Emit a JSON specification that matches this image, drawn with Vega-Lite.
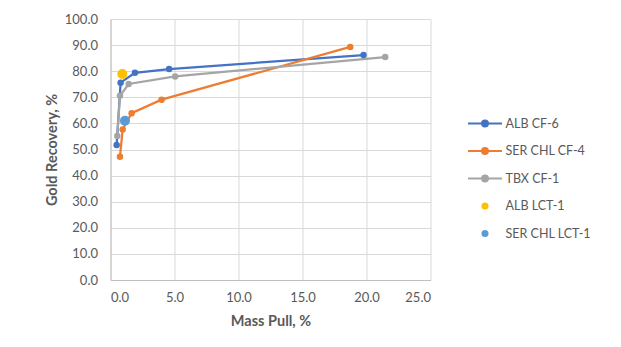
{
  "$schema": "https://vega.github.io/schema/vega-lite/v6.json",
  "width": 320,
  "height": 261,
  "autosize": {"type": "none"},
  "padding": {"left": 110.5, "top": 19, "right": 190.5, "bottom": 67},
  "background": "white",
  "config": {"view": {"stroke": null}},
  "data": {
    "values": [
      {"series": "ALB CF-6", "mass": 0.48, "recovery": 51.7},
      {"series": "ALB CF-6", "mass": 0.79, "recovery": 75.6},
      {"series": "ALB CF-6", "mass": 1.91, "recovery": 79.4},
      {"series": "ALB CF-6", "mass": 4.58, "recovery": 80.8},
      {"series": "ALB CF-6", "mass": 19.77, "recovery": 86.2},
      {"series": "SER CHL CF-4", "mass": 0.74, "recovery": 47.2},
      {"series": "SER CHL CF-4", "mass": 0.95, "recovery": 57.7},
      {"series": "SER CHL CF-4", "mass": 1.65, "recovery": 63.9},
      {"series": "SER CHL CF-4", "mass": 3.99, "recovery": 69.1},
      {"series": "SER CHL CF-4", "mass": 18.73, "recovery": 89.3},
      {"series": "TBX CF-1", "mass": 0.53, "recovery": 55.2},
      {"series": "TBX CF-1", "mass": 0.74, "recovery": 70.6},
      {"series": "TBX CF-1", "mass": 1.42, "recovery": 75.1},
      {"series": "TBX CF-1", "mass": 5.05, "recovery": 78.0},
      {"series": "TBX CF-1", "mass": 21.46, "recovery": 85.4},
      {"series": "ALB LCT-1", "mass": 0.92, "recovery": 78.9},
      {"series": "SER CHL LCT-1", "mass": 1.13, "recovery": 61.0}
    ]
  },
  "encoding": {
    "x": {
      "field": "mass", "type": "quantitative",
      "scale": {"domain": [0, 25], "nice": false, "zero": true},
      "axis": {
        "title": "Mass Pull, %", "values": [0, 5, 10, 15, 20, 25], "format": ".1f",
        "grid": true, "gridColor": "#D9D9D9", "gridWidth": 1,
        "domainColor": "#BFBFBF", "ticks": false,
        "labelFont": "Lato", "labelFontSize": 13, "labelColor": "#595959", "labelPadding": 11,
        "titleFont": "Lato", "titleFontSize": 14.5, "titleFontWeight": "bold", "titleColor": "#595959", "titlePadding": 10
      }
    },
    "y": {
      "field": "recovery", "type": "quantitative",
      "scale": {"domain": [0, 100], "nice": false},
      "axis": {
        "title": "Gold Recovery, %", "values": [0, 10, 20, 30, 40, 50, 60, 70, 80, 90, 100], "format": ".1f",
        "grid": true, "gridColor": "#D9D9D9", "gridWidth": 1,
        "domainColor": "#BFBFBF", "ticks": false,
        "labelFont": "Lato", "labelFontSize": 13, "labelColor": "#595959", "labelPadding": 13,
        "titleFont": "Lato", "titleFontSize": 14.5, "titleFontWeight": "bold", "titleColor": "#595959", "titlePadding": 5
      }
    },
    "color": {
      "field": "series", "type": "nominal",
      "scale": {
        "domain": ["ALB CF-6", "SER CHL CF-4", "TBX CF-1", "ALB LCT-1", "SER CHL LCT-1"],
        "range": ["#4472C4", "#ED7D31", "#A5A5A5", "#FFC000", "#5B9BD5"]
      },
      "legend": {
        "orient": "none", "legendX": 365, "legendY": 95, "title": null, "padding": 0,
        "labelFont": "Lato", "labelFontSize": 12.5, "labelColor": "#595959", "labelOffset": 11,
        "rowPadding": 10.5, "symbolSize": 289, "symbolStrokeWidth": 2,
        "encode": {
          "symbols": {
            "update": {
              "shape": {"signal": "indexof(['ALB LCT-1','SER CHL LCT-1'], datum.value) >= 0 ? 'M0.3,0A0.3,0.3 0 1,1 -0.3,0A0.3,0.3 0 1,1 0.3,0Z' : 'M-2,0L2,0M0.35,0A0.35,0.35 0 1,1 -0.35,0A0.35,0.35 0 1,1 0.35,0Z'"},
              "fill": {"scale": "color", "field": "value"},
              "stroke": {"scale": "color", "field": "value"},
              "strokeWidth": {"value": 2},
              "opacity": {"value": 1}
            }
          }
        }
      }
    }
  },
  "layer": [
    {
      "transform": [{"filter": {"field": "series", "oneOf": ["ALB CF-6", "SER CHL CF-4", "TBX CF-1"]}}],
      "mark": {"type": "line", "interpolate": "linear", "strokeWidth": 2.25}
    },
    {
      "transform": [{"filter": {"field": "series", "oneOf": ["ALB CF-6", "SER CHL CF-4", "TBX CF-1"]}}],
      "mark": {"type": "point", "filled": true, "size": 42, "opacity": 1}
    },
    {
      "transform": [{"filter": {"field": "series", "oneOf": ["ALB LCT-1", "SER CHL LCT-1"]}}],
      "mark": {"type": "point", "filled": true, "size": 100, "opacity": 1}
    }
  ]
}
